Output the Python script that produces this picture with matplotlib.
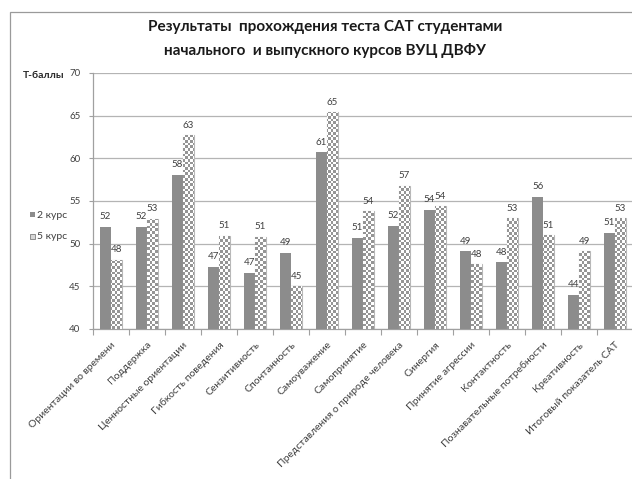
import numpy as np
import matplotlib
matplotlib.use("Agg")
import matplotlib.pyplot as plt
from matplotlib.patches import Rectangle

# CAT scale scores (T-points) for 2nd and 5th year students
categories = [
    "Ориентации во времени", "Поддержка", "Ценностные ориентации",
    "Гибкость поведения", "Сензитивность", "Спонтанность", "Самоуважение",
    "Самопринятие", "Представления о природе человека", "Синергия",
    "Принятие агрессии", "Контактность", "Познавательные потребности",
    "Креативность", "Итоговый показатель САТ",
]
course_2 = [52.0, 52.0, 58.1, 47.3, 46.6, 48.9, 60.7, 50.7, 52.1, 54.0,
            49.1, 47.8, 55.5, 44.0, 51.3]
course_5 = [48.1, 52.9, 62.7, 50.9, 50.8, 45.0, 65.4, 53.8, 56.8, 54.4,
            47.6, 53.0, 51.0, 49.1, 53.0]
series_names = ["2 курс", "5 курс"]
y_ticks = [40, 45, 50, 55, 60, 65, 70]

FONT = ["Lato", "DejaVu Sans"]
plt.rcParams["font.family"] = FONT

fig = plt.figure(figsize=(6.32, 4.79), dpi=100)
W, H = 632, 479
ax = fig.add_axes([93 / W, 1 - 329 / H, 540 / W, 256 / H])

x = np.arange(len(categories))
bw = 0.3
solid_color = "#8c8c8c"
checker_dark = "#959595"

bars2 = ax.bar(x - bw / 2, course_2, bw, color=solid_color,
               linewidth=0, zorder=3)
bars5 = ax.bar(x + bw / 2, course_5, bw, color="white",
               edgecolor="#b8b8b8", linewidth=0.8, zorder=3)

# checkerboard fill for the 5th year bars
ncols, nrows = 200, 95
checker = (np.add.outer(np.arange(nrows), np.arange(ncols)) % 2).astype(float)
cmap = matplotlib.colors.ListedColormap(["white", checker_dark])
for b in bars5:
    im = ax.imshow(checker, cmap=cmap, interpolation="nearest",
                   extent=[0, 1, 0, 1], transform=ax.transAxes,
                   aspect="auto", zorder=3.5)
    im.set_clip_path(b)

ax.set_xlim(-0.5, len(categories) - 0.5)
ax.set_ylim(40, 70)

# value labels above bars
for bars, vals in ((bars2, course_2), (bars5, course_5)):
    for b, v in zip(bars, vals):
        ax.annotate(f"{v:.0f}", (b.get_x() + b.get_width() / 2, v),
                    xytext=(0, 4), textcoords="offset points",
                    ha="center", va="bottom", fontsize=7, color="#404040",
                    zorder=5)

ax.set_yticks(y_ticks)
ax.yaxis.grid(True, color="#b4b4b4", linewidth=0.9, zorder=0)
ax.set_axisbelow(True)
ax.tick_params(axis="y", labelsize=7, labelcolor="#404040", length=3,
               width=0.8, pad=6, color="#a0a0a0")

ax.set_xticks(x)
ax.set_xticklabels(categories, rotation=45, ha="right", va="top",
                   rotation_mode="anchor", fontsize=7.5, color="#404040")
ax.tick_params(axis="x", length=0, pad=8)
ax.set_xticks(np.arange(len(categories) + 1) - 0.5, minor=True)
ax.tick_params(axis="x", which="minor", length=4, width=0.8, color="#a0a0a0")

for side in ("top", "right"):
    ax.spines[side].set_visible(False)
for side in ("left", "bottom"):
    ax.spines[side].set_color("#a0a0a0")
    ax.spines[side].set_linewidth(0.9)

# chart frame
fig.patches.append(Rectangle((10 / W, -0.1), 1.2, 1 - 12 / H + 0.1,
                             transform=fig.transFigure, fill=False,
                             edgecolor="#9a9a9a", linewidth=0.9))

fig.text(325 / W, 1 - 39 / H,
         "Результаты  прохождения теста САТ студентами\n"
         "начального  и выпускного курсов ВУЦ ДВФУ",
         ha="center", va="center", fontsize=11, fontweight="bold",
         linespacing=1.75, color="#1a1a1a")
fig.text(23 / W, 1 - 75 / H, "Т-баллы", ha="left", va="center",
         fontsize=7.5, fontweight="bold", color="#262626")

# legend on the left side
for i, (name, yy) in enumerate(zip(series_names, (215, 236))):
    fy = 1 - yy / H
    sq = Rectangle((30 / W, fy - 2.5 / H), 5 / W, 5 / H,
                   transform=fig.transFigure,
                   facecolor=solid_color if i == 0 else "#d8d8d8",
                   edgecolor="none" if i == 0 else "#808080", linewidth=0.6)
    fig.patches.append(sq)
    fig.text(37 / W, fy, name, ha="left", va="center", fontsize=7.5,
             color="#404040")

fig.savefig("out.png", dpi=100)
